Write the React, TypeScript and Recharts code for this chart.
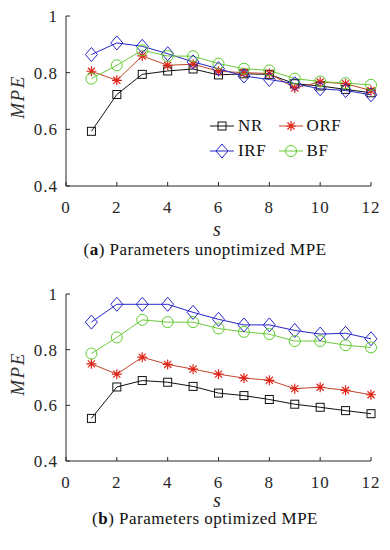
import React from 'react';
import { LineChart, Line, XAxis, YAxis, Legend } from 'recharts';

const S = [1, 2, 3, 4, 5, 6, 7, 8, 9, 10, 11, 12];
const X_TICKS = [0, 2, 4, 6, 8, 10, 12];
const Y_TICKS = [0.4, 0.6, 0.8, 1];

// (a) parameters unoptimized
const NR_A = [0.593, 0.723, 0.794, 0.806, 0.813, 0.792, 0.796, 0.794, 0.761, 0.753, 0.741, 0.729];
const ORF_A = [0.805, 0.773, 0.859, 0.826, 0.830, 0.805, 0.800, 0.797, 0.746, 0.767, 0.761, 0.737];
const IRF_A = [0.864, 0.905, 0.893, 0.867, 0.838, 0.814, 0.788, 0.776, 0.761, 0.743, 0.737, 0.722];
const BF_A = [0.779, 0.826, 0.879, 0.859, 0.858, 0.832, 0.814, 0.808, 0.779, 0.769, 0.763, 0.757];

// (b) parameters optimized
const NR_B = [0.553, 0.666, 0.689, 0.683, 0.668, 0.644, 0.635, 0.621, 0.604, 0.593, 0.581, 0.570];
const ORF_B = [0.749, 0.712, 0.773, 0.747, 0.730, 0.712, 0.698, 0.690, 0.660, 0.665, 0.654, 0.638];
const IRF_B = [0.899, 0.963, 0.963, 0.963, 0.934, 0.909, 0.889, 0.889, 0.869, 0.856, 0.859, 0.839];
const BF_B = [0.786, 0.844, 0.907, 0.899, 0.899, 0.876, 0.864, 0.856, 0.831, 0.831, 0.816, 0.808];

const FONT = '"Liberation Serif", "Times New Roman", serif';
const AXIS = '#262626';

const SERIES = [
  { key: 'NR', line: '#111111', mark: '#111111', shape: 'square' },
  { key: 'ORF', line: '#c0452a', mark: '#e02418', shape: 'star' },
  { key: 'IRF', line: '#2626c8', mark: '#2626c8', shape: 'diamond' },
  { key: 'BF', line: '#6cc83a', mark: '#5ccc2c', shape: 'circle' },
];

function Marker({ shape, cx, cy, color }: { shape: string; cx: number; cy: number; color: string }) {
  if (shape === 'square') {
    return <rect x={cx - 4} y={cy - 4} width={8} height={8} fill="none" stroke={color} strokeWidth={1} />;
  }
  if (shape === 'diamond') {
    return (
      <path
        d={`M${cx},${cy - 7}L${cx + 6},${cy}L${cx},${cy + 7}L${cx - 6},${cy}Z`}
        fill="none"
        stroke={color}
        strokeWidth={1}
      />
    );
  }
  if (shape === 'circle') {
    return <circle cx={cx} cy={cy} r={5.5} fill="none" stroke={color} strokeWidth={1} />;
  }
  const r = 5;
  const d = r * 0.707;
  return (
    <path
      d={`M${cx - r},${cy}H${cx + r}M${cx},${cy - r}V${cy + r}M${cx - d},${cy - d}L${cx + d},${cy + d}M${cx - d},${cy + d}L${cx + d},${cy - d}`}
      stroke={color}
      strokeWidth={1.2}
    />
  );
}

function LegendBox({ colGap, rowGap }: { colGap: number; rowGap: number }) {
  return (
    <div style={{ position: 'relative', width: 2 * colGap, height: 2 * rowGap, fontFamily: FONT, fontSize: 17, color: '#111' }}>
      {SERIES.map((s, i) => (
        <div
          key={s.key}
          style={{
            position: 'absolute',
            left: (i % 2) * colGap,
            top: Math.floor(i / 2) * rowGap,
            height: rowGap,
            display: 'flex',
            alignItems: 'center',
            whiteSpace: 'nowrap',
          }}
        >
          <svg width={24} height={16} style={{ overflow: 'visible' }}>
            <line x1={0} y1={8} x2={24} y2={8} stroke={s.line} strokeWidth={1} />
            <Marker shape={s.shape} cx={12} cy={8} color={s.mark} />
          </svg>
          <span style={{ marginLeft: 4, letterSpacing: 0.6 }}>{s.key}</span>
        </div>
      ))}
    </div>
  );
}

function Panel({
  top,
  plotTop,
  plotBottom,
  nr,
  orf,
  irf,
  bf,
  tag,
  caption,
  legendLeft,
  legendTop,
  sY,
  capY,
}: any) {
  const H = 250;
  const data = S.map((s, i) => ({ s, NR: nr[i], ORF: orf[i], IRF: irf[i], BF: bf[i] }));
  const tickStyle = { fill: AXIS, fontSize: 17, fontFamily: FONT, letterSpacing: 1 };
  return (
    <div style={{ position: 'absolute', left: 0, top, width: 390, height: H }}>
      <LineChart
        width={390}
        height={H}
        data={data}
        margin={{ top: plotTop, right: 19, left: 0, bottom: 0 }}
      >
        <XAxis
          dataKey="s"
          type="number"
          domain={[0, 12]}
          ticks={X_TICKS}
          height={H - plotBottom}
          tickSize={-4}
          tickMargin={19}
          stroke={AXIS}
          tick={tickStyle}
          interval={0}
        />
        <XAxis
          xAxisId="top"
          orientation="top"
          type="number"
          domain={[0, 12]}
          ticks={X_TICKS}
          height={0}
          tickSize={-4}
          stroke={AXIS}
          tickFormatter={() => ''}
        />
        <YAxis
          type="number"
          domain={[0.4, 1]}
          ticks={Y_TICKS}
          width={66}
          tickSize={-4}
          tickMargin={12}
          stroke={AXIS}
          tick={tickStyle}
          interval={0}
        />
        <YAxis
          yAxisId="right"
          orientation="right"
          type="number"
          domain={[0.4, 1]}
          ticks={Y_TICKS}
          width={0}
          tickSize={-4}
          stroke={AXIS}
          tickFormatter={() => ''}
        />
        {SERIES.map((s) => (
          <Line
            key={s.key}
            dataKey={s.key}
            stroke={s.line}
            strokeWidth={1}
            isAnimationActive={false}
            dot={(p: any) => <Marker key={`${s.key}-${p.index}`} shape={s.shape} cx={p.cx} cy={p.cy} color={s.mark} />}
            activeDot={false}
          />
        ))}
        <Legend
          verticalAlign="middle"
          align="center"
          layout="horizontal"
          wrapperStyle={{ left: legendLeft, top: legendTop, width: 140 }}
          content={() => <LegendBox colGap={68.5} rowGap={25.5} />}
        />
      </LineChart>
      <div
        style={{
          position: 'absolute',
          left: 17,
          top: (plotTop + plotBottom) / 2 - 4,
          transform: 'translate(-50%, -50%) rotate(-90deg)',
          fontFamily: FONT,
          fontStyle: 'italic',
          fontSize: 19,
          lineHeight: 1,
          letterSpacing: 1.5,
          color: '#333',
          whiteSpace: 'nowrap',
        }}
      >
        MPE
      </div>
      <div
        style={{
          position: 'absolute',
          left: 217,
          top: sY,
          transform: 'translate(-50%, -50%)',
          fontFamily: FONT,
          fontStyle: 'italic',
          fontSize: 20,
          lineHeight: 1,
          color: '#222',
        }}
      >
        s
      </div>
      <div
        style={{
          position: 'absolute',
          left: 205,
          top: capY,
          transform: 'translate(-50%, -50%)',
          fontFamily: FONT,
          fontSize: 17,
          lineHeight: 1,
          letterSpacing: 0.5,
          color: '#111',
          whiteSpace: 'nowrap',
        }}
      >
        (<b>{tag}</b>) {caption}
      </div>
    </div>
  );
}

export default function App() {
  return (
    <div style={{ position: 'absolute', left: 0, top: 0, width: 390, height: 550, background: '#fff', overflow: 'hidden' }}>
      <Panel
        top={0}
        plotTop={16}
        plotBottom={186}
        nr={NR_A}
        orf={ORF_A}
        irf={IRF_A}
        bf={BF_A}
        tag="a"
        caption="Parameters unoptimized MPE"
        legendLeft={210}
        legendTop={113}
        sY={229}
        capY={249}
      />
      <Panel
        top={270}
        plotTop={24}
        plotBottom={191}
        nr={NR_B}
        orf={ORF_B}
        irf={IRF_B}
        bf={BF_B}
        tag="b"
        caption="Parameters optimized MPE"
        legendLeft={178}
        legendTop={409}
        sY={230}
        capY={248}
      />
    </div>
  );
}
